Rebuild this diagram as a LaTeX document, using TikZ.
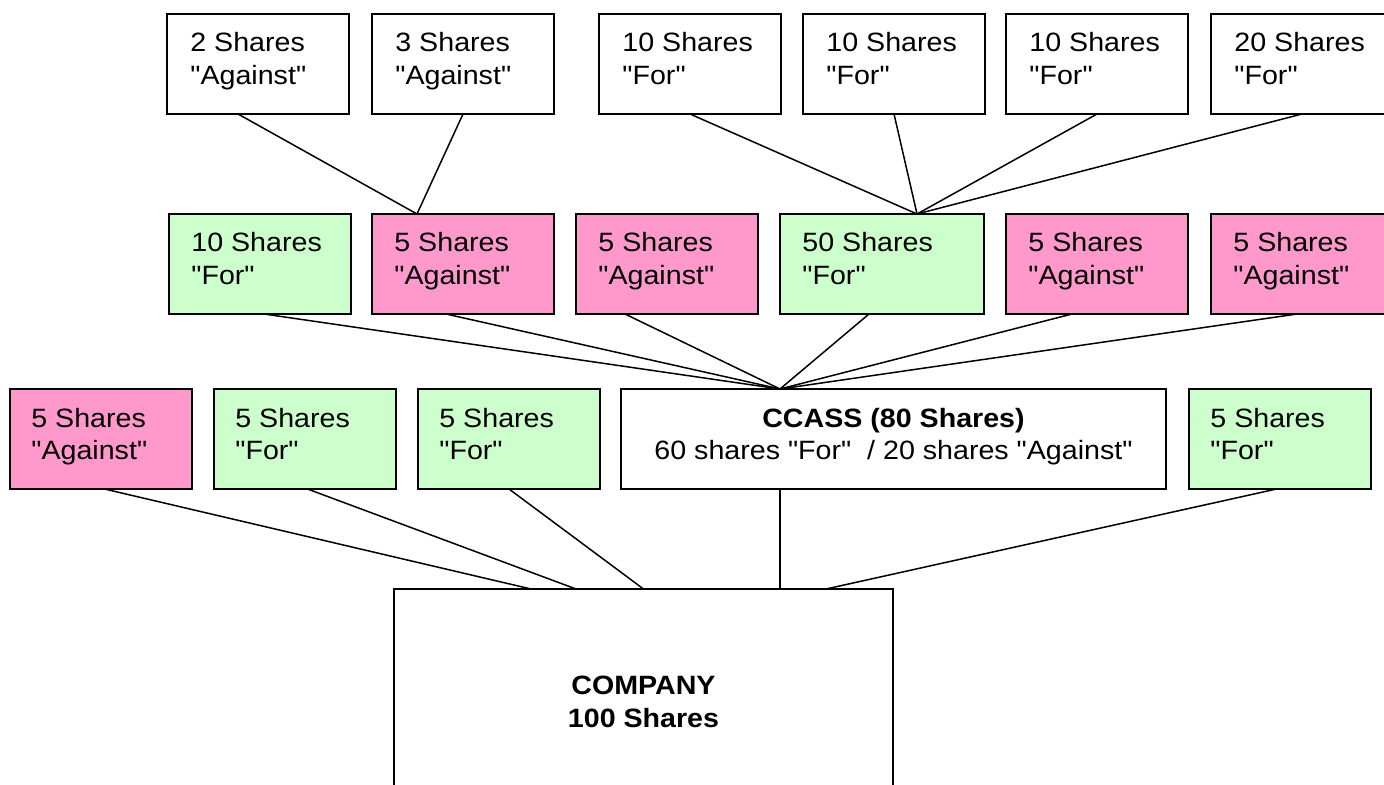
\documentclass[tikz,border=0pt]{standalone}
\usepackage{fontspec}
\setmainfont{Liberation Sans}[FakeStretch=1.08,Ligatures=TeXOff]
\definecolor{pinkbox}{HTML}{FF99CC}
\definecolor{greenbox}{HTML}{CCFFCC}
\newcommand\twolines[2]{\parbox[t]{100pt}{\raggedright #1\\#2}}
\newcommand\twocentered[2]{\parbox[t]{270pt}{\centering #1\\#2}}
\begin{document}
\begin{tikzpicture}[x=0.5pt,y=-0.5pt,
  box/.style={draw=black,line width=1pt,rectangle,anchor=north west,inner sep=0pt,outer sep=0pt,minimum height=50pt,minimum width=91pt},
  pinkfill/.style={fill=pinkbox},
  greenfill/.style={fill=greenbox},
  whitefill/.style={fill=white},
  txt/.style={anchor=base west,inner sep=0pt,font=\fontsize{13.25}{16.5}\selectfont},
  ctxt/.style={anchor=base,inner sep=0pt,font=\fontsize{13.25}{16.5}\selectfont},
  link/.style={draw=black,line width=0.75pt}]
\useasboundingbox (0,0) rectangle (1384,785);
\fill[white] (0,0) rectangle (1384,785);
\clip (0,0) rectangle (1384,785);

% top row
\node[box,whitefill] (t1) at (167,14) {};
\node[box,whitefill] (t2) at (372,14) {};
\node[box,whitefill] (t3) at (599,14) {};
\node[box,whitefill] (t4) at (803,14) {};
\node[box,whitefill] (t5) at (1006,14) {};
\node[box,whitefill] (t6) at (1211,14) {};
% middle row
\node[box,greenfill] (m1) at (169,214) {};
\node[box,pinkfill] (m2) at (372,214) {};
\node[box,pinkfill] (m3) at (576,214) {};
\node[box,greenfill,minimum width=102pt] (m4) at (780,214) {};
\node[box,pinkfill] (m5) at (1006,214) {};
\node[box,pinkfill] (m6) at (1211,214) {};
% bottom row
\node[box,pinkfill] (b1) at (10,389) {};
\node[box,greenfill] (b2) at (214,389) {};
\node[box,greenfill] (b3) at (418,389) {};
\node[box,whitefill,minimum width=272.5pt] (cc) at (621,389) {};
\node[box,greenfill] (b5) at (1189,389) {};
% company
\node[box,whitefill,minimum width=249.5pt,minimum height=115pt] (co) at (394,589) {};

% texts
\node[txt] (t1l) at ([shift={(11.5pt,-19pt)}]t1.north west) {\twolines{2 Shares}{"Against"}};
\node[txt] (t2l) at ([shift={(11.5pt,-19pt)}]t2.north west) {\twolines{3 Shares}{"Against"}};
\node[txt] (t3l) at ([shift={(11.5pt,-19pt)}]t3.north west) {\twolines{10 Shares}{"For"}};
\node[txt] (t4l) at ([shift={(11.5pt,-19pt)}]t4.north west) {\twolines{10 Shares}{"For"}};
\node[txt] (t5l) at ([shift={(11.5pt,-19pt)}]t5.north west) {\twolines{10 Shares}{"For"}};
\node[txt] (t6l) at ([shift={(11.5pt,-19pt)}]t6.north west) {\twolines{20 Shares}{"For"}};
\node[txt] (m1l) at ([shift={(11pt,-19pt)}]m1.north west) {\twolines{10 Shares}{"For"}};
\node[txt] (m2l) at ([shift={(11pt,-19pt)}]m2.north west) {\twolines{5 Shares}{"Against"}};
\node[txt] (m3l) at ([shift={(11pt,-19pt)}]m3.north west) {\twolines{5 Shares}{"Against"}};
\node[txt] (m4l) at ([shift={(11pt,-19pt)}]m4.north west) {\twolines{50 Shares}{"For"}};
\node[txt] (m5l) at ([shift={(11pt,-19pt)}]m5.north west) {\twolines{5 Shares}{"Against"}};
\node[txt] (m6l) at ([shift={(11pt,-19pt)}]m6.north west) {\twolines{5 Shares}{"Against"}};
\node[txt] (b1l) at ([shift={(10.5pt,-19pt)}]b1.north west) {\twolines{5 Shares}{"Against"}};
\node[txt] (b2l) at ([shift={(10.5pt,-19pt)}]b2.north west) {\twolines{5 Shares}{"For"}};
\node[txt] (b3l) at ([shift={(10.5pt,-19pt)}]b3.north west) {\twolines{5 Shares}{"For"}};
\node[txt] (b5l) at ([shift={(10.5pt,-19pt)}]b5.north west) {\twolines{5 Shares}{"For"}};
\node[ctxt] (ccl) at ([yshift=-19pt]cc.north) {\twocentered{{\bfseries CCASS (80 Shares)}}{60 shares "For"~~/ 20 shares "Against"}};
\node[ctxt] (col) at ([yshift=-52.5pt]co.north) {\twocentered{{\bfseries COMPANY}}{{\bfseries 100 Shares}}};

% connectors top -> middle
\draw[link] ([xshift=-10pt]t1.south) -- ([xshift=-23pt]m2.north);
\draw[link] (t2.south) -- ([xshift=-23pt]m2.north);
\draw[link] (t3.south) -- ([xshift=17.5pt]m4.north);
\draw[link] (t4.south) -- ([xshift=17.5pt]m4.north);
\draw[link] (t5.south) -- ([xshift=17.5pt]m4.north);
\draw[link] (t6.south) -- ([xshift=17.5pt]m4.north);
% middle -> CCASS
\draw[link] ([xshift=2pt]m1.south) -- ([xshift=-56.75pt]cc.north);
\draw[link] ([xshift=-8.5pt]m2.south) -- ([xshift=-56.75pt]cc.north);
\draw[link] ([xshift=-21pt]m3.south) -- ([xshift=-56.75pt]cc.north);
\draw[link] ([xshift=-6.5pt]m4.south) -- ([xshift=-56.75pt]cc.north);
\draw[link] ([xshift=-12.5pt]m5.south) -- ([xshift=-56.75pt]cc.north);
\draw[link] ([xshift=-2.5pt]m6.south) -- ([xshift=-56.75pt]cc.north);
% bottom -> company
\draw[link] ([xshift=1.75pt]b1.south) -- ([xshift=-56.25pt]co.north);
\draw[link] ([xshift=1.25pt]b2.south) -- ([xshift=-33.75pt]co.north);
\draw[link] (b3.south) -- (co.north);
\draw[link] ([xshift=-56.75pt]cc.south) -- ([xshift=68.25pt]co.north);
\draw[link] ([xshift=-1.75pt]b5.south) -- ([xshift=91.25pt]co.north);
\end{tikzpicture}
\end{document}
